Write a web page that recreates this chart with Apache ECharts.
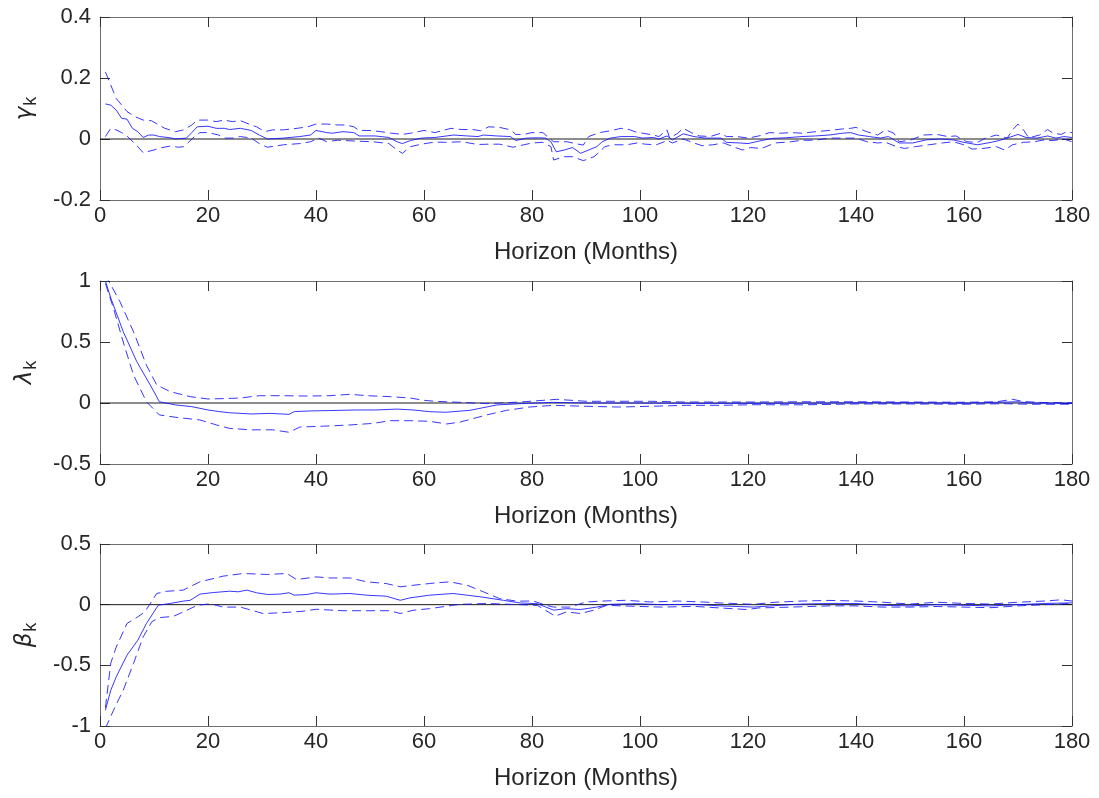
<!DOCTYPE html>
<html><head><meta charset="utf-8">
<script src="https://cdn.jsdelivr.net/npm/echarts@6/dist/echarts.min.js"></script>
<style>html,body{margin:0;padding:0;background:#fff}#c{width:1099px;height:798px}</style>
</head><body><div id="c"></div>
<script>
const xLabel = 'Horizon (Months)';
const xMin = 0, xMax = 180, xStep = 20;

// gamma_k panel
const gammaHi = [[1,0.22],[3,0.133],[5,0.09],[6.5,0.073],[8,0.062],[9.5,0.06],[12,0.035],[14,0.024],[15.5,0.03],[17,0.046],[18,0.062],[20,0.062],[21.5,0.057],[23,0.062],[24.5,0.057],[26,0.06],[28,0.046],[29,0.04],[30.5,0.024],[32,0.03],[34,0.03],[36.5,0.035],[38.5,0.04],[40,0.049],[42,0.049],[44,0.046],[45.5,0.046],[47,0.04],[48,0.028],[50,0.028],[52,0.024],[54,0.019],[56,0.015],[57.5,0.019],[60,0.028],[62,0.021],[65,0.035],[67,0.031],[69,0.031],[70.5,0.027],[72,0.04],[74,0.038],[76,0.03],[77,0.015],[78.5,0.015],[80,0.021],[82,0.021],[84,-0.009],[86.5,-0.009],[88,-0.015],[89.5,-0.02],[90.5,0.008],[92.5,0.021],[94.5,0.027],[96.5,0.035],[98,0.031],[99.5,0.021],[100.5,0.019],[102.5,0.013],[103.5,0.008],[105,0.03],[105.5,0.003],[107,0.019],[108,0.035],[109.5,0.021],[111,0.01],[113,0.008],[115,0.019],[116,0.008],[118,0.008],[120,0.003],[122,0.01],[124,0.021],[126,0.019],[128,0.021],[130,0.019],[132.5,0.024],[135,0.028],[137.5,0.033],[139,0.035],[140,0.038],[142,0.024],[144,0.013],[145.5,0.03],[147,0.019],[148,-0.009],[150,-0.004],[152.5,0.013],[155,0.015],[157,0.008],[158.5,0.01],[160.5,-0.009],[162.5,-0.011],[164,0.003],[166,0.013],[168,0.003],[169,0.03],[170,0.049],[171,0.03],[172,0.004],[174,0.013],[175.5,0.031],[176.5,0.019],[178,0.015],[179,0.024],[180,0.021]];
const gammaMid = [[1,0.115],[2,0.111],[3,0.095],[4,0.068],[5,0.065],[6,0.035],[7,0.024],[8,0.005],[9,0.013],[10,0.013],[11,0.008],[13,0.004],[14,0],[16,0.003],[17,0.021],[18,0.04],[20,0.042],[21.5,0.035],[23,0.035],[24,0.031],[26,0.035],[28,0.028],[29.5,0.013],[31,0],[34,0.003],[37,0.008],[39,0.013],[40,0.028],[42,0.021],[43,0.019],[45,0.024],[47,0.021],[48,0.01],[51,0.01],[53.5,0.005],[55,-0.009],[56,-0.015],[57.5,-0.005],[59.5,0.003],[62,0.005],[65.5,0.013],[68,0.01],[70,0.008],[71,0.013],[73.5,0.01],[76,0.008],[77,-0.005],[79,0.003],[81,0.004],[82.5,0.003],[83.5,-0.009],[84.5,-0.042],[86,-0.036],[87.5,-0.028],[89,-0.047],[90.5,-0.036],[92,-0.025],[93,-0.009],[94.5,0.003],[96.5,0.008],[99,0.008],[100.5,0.003],[102.5,0.005],[103.5,0],[105,0.01],[106,-0.003],[108,0.017],[110,0.008],[112,0.003],[115,0.003],[116,-0.011],[118.5,-0.013],[120,-0.015],[122,-0.007],[124.5,0.002],[127,0.004],[130,0.008],[132.5,0.01],[135,0.013],[137.5,0.019],[139,0.021],[140.5,0.013],[142.5,0.008],[144.5,0.003],[146,0.008],[148,-0.013],[150.5,-0.013],[153,-0.003],[155.5,0],[158,-0.003],[160,-0.011],[162.5,-0.019],[165,-0.011],[166.5,-0.005],[168,0.003],[170,0.015],[171.5,0.005],[173.5,0.003],[175.5,0.01],[177,0.003],[178.5,0.008],[180,0.005]];
const gammaLo = [[1,0.008],[2,0.035],[3,0.03],[4,0.021],[5,0.01],[7,-0.025],[8,-0.045],[10,-0.036],[11,-0.03],[13,-0.023],[14.5,-0.027],[15.5,-0.025],[16.5,-0.009],[17.5,0.008],[18.5,0.021],[20,0.021],[22,0.013],[23,0.003],[24.5,0.003],[26,0.008],[28,0.003],[29.5,-0.015],[31,-0.027],[34,-0.019],[37,-0.015],[39,-0.009],[40.5,0.003],[42,-0.009],[44,-0.004],[47.5,-0.007],[50.5,-0.009],[53.5,-0.015],[55,-0.036],[56,-0.047],[57.5,-0.025],[59.5,-0.017],[62,-0.01],[64,-0.011],[67,-0.009],[70,-0.018],[72,-0.017],[74,-0.017],[76.5,-0.027],[78.5,-0.019],[80,-0.013],[82,-0.011],[83.5,-0.025],[84,-0.069],[86,-0.058],[87.5,-0.058],[89.5,-0.071],[91.5,-0.058],[92.5,-0.042],[93.5,-0.025],[95,-0.019],[97.5,-0.019],[99.5,-0.013],[101,-0.017],[103,-0.019],[104.5,-0.009],[105,-0.004],[106,-0.013],[108,0],[110,-0.013],[111.5,-0.022],[113.5,-0.019],[115.5,-0.013],[117.5,-0.027],[119,-0.036],[120.5,-0.028],[122.5,-0.031],[125,-0.013],[128,-0.009],[130,-0.004],[132.5,-0.004],[135,0.003],[137.5,0.003],[140,0.003],[142,-0.009],[144,-0.013],[145.5,-0.011],[147.5,-0.025],[149,-0.031],[151,-0.025],[153.5,-0.019],[156,-0.013],[158,-0.009],[160,-0.019],[161.5,-0.033],[163.5,-0.031],[166,-0.025],[167.5,-0.036],[169,-0.019],[171,-0.011],[173,-0.009],[174.5,-0.004],[176.5,-0.005],[178.5,0],[180,-0.009]];

// lambda_k panel
const lambdaHi = [[1,1.05],[3.7,0.83],[6.2,0.585],[8.6,0.31],[10.5,0.148],[13,0.093],[16.7,0.052],[20,0.033],[23,0.036],[26,0.041],[29.5,0.06],[34,0.06],[38.3,0.057],[42.6,0.06],[46.3,0.071],[49.4,0.06],[53.7,0.052],[57.4,0.041],[60,0.022],[62,0.014],[65.4,0.008],[71.6,-0.005],[77.8,0.008],[84.6,0.03],[90,0.014],[96,0.014],[102,0.014],[108,0.008],[115,0.008],[121,0.008],[130,0.01],[140,0.01],[150,0.008],[160,0.006],[166,0.01],[169,0.03],[171,0.012],[175,0.003],[180,0.002]];
const lambdaMid = [[1,1.0],[2,0.86],[4.3,0.585],[6.8,0.34],[9.3,0.148],[11,0.01],[14,-0.016],[17,-0.03],[20,-0.057],[22,-0.07],[24,-0.08],[28,-0.09],[31.5,-0.085],[35,-0.093],[36,-0.07],[39,-0.065],[42.5,-0.062],[47.5,-0.057],[51,-0.057],[55,-0.05],[58,-0.057],[61,-0.071],[64,-0.076],[68.5,-0.06],[73.5,-0.016],[78,-0.005],[84,0.005],[90,0],[100,0],[110,-0.003],[120,-0.003],[130,-0.002],[140,0.002],[150,0.002],[160,-0.002],[168,0.008],[170,0.01],[172,0],[180,-0.003]];
const lambdaLo = [[1,0.98],[2.5,0.776],[4.3,0.5],[6.2,0.23],[8.6,0.01],[11,-0.098],[14,-0.117],[18.5,-0.139],[21.6,-0.18],[24,-0.208],[28,-0.22],[32,-0.22],[35,-0.24],[37,-0.197],[41.4,-0.19],[46.3,-0.18],[50.6,-0.167],[53.7,-0.145],[57.4,-0.145],[61,-0.15],[64.2,-0.172],[66.7,-0.156],[71.6,-0.098],[75.3,-0.06],[79.6,-0.033],[84,-0.019],[90,-0.027],[96,-0.033],[102,-0.027],[108.6,-0.019],[115,-0.019],[121,-0.014],[130,-0.015],[140,-0.008],[150,-0.008],[160,-0.01],[168,-0.006],[172,-0.01],[180,-0.01]];

// beta_k panel
const betaHi = [[1,-0.85],[2,-0.48],[3,-0.35],[5,-0.155],[7,-0.1],[8.3,-0.06],[10.5,0.092],[12.3,0.11],[15.4,0.12],[18.5,0.188],[22.8,0.235],[26.5,0.257],[31,0.249],[34.6,0.257],[36.4,0.207],[40,0.229],[42.6,0.22],[46.3,0.22],[49.4,0.188],[53,0.174],[55.6,0.147],[58,0.16],[61,0.174],[62.3,0.18],[64.8,0.188],[68,0.16],[71,0.106],[74,0.05],[77.2,0.029],[80.2,0.03],[82.7,-0.006],[84,-0.02],[87,-0.02],[90,0.022],[93,0.03],[97.5,0.036],[102,0.022],[107,0.03],[111.7,0.022],[115,0.014],[121,0.003],[125,0.02],[130,0.03],[135,0.035],[140,0.03],[145,0.02],[150,0.005],[155,0.02],[160,0.01],[165,0.005],[170,0.02],[175,0.03],[178,0.04],[180,0.03]];
const betaMid = [[1,-0.87],[2,-0.705],[3,-0.595],[5,-0.416],[7,-0.293],[8.6,-0.155],[10.8,-0.004],[13,0.01],[15.4,0.029],[16.7,0.036],[18.5,0.087],[21,0.1],[24,0.111],[25.6,0.106],[27.2,0.12],[29,0.098],[31,0.084],[33.3,0.087],[35,0.098],[36,0.078],[38.3,0.084],[40,0.098],[42.6,0.087],[46.3,0.092],[49.4,0.078],[53,0.07],[55.6,0.036],[57.4,0.056],[61,0.078],[65.4,0.092],[70.4,0.065],[74.7,0.036],[77.8,0.014],[81,0.008],[84,-0.045],[86.4,-0.033],[89,-0.04],[92,-0.02],[94.4,0.003],[99.4,0.008],[104,0],[110,0.003],[114.8,-0.01],[121,-0.02],[126,-0.005],[130,0.005],[135,0.01],[140,0.01],[145,-0.005],[150,-0.01],[155,0],[160,-0.005],[165,-0.01],[170,0],[175,0.01],[180,0.015]];
const betaLo = [[1,-1.02],[2.5,-0.87],[4.3,-0.705],[6.2,-0.485],[8,-0.265],[9.6,-0.14],[11,-0.107],[13.6,-0.096],[15.4,-0.06],[18,-0.006],[20.4,0.008],[22.8,-0.02],[26,-0.02],[30.2,-0.073],[33.3,-0.067],[37.6,-0.054],[40,-0.038],[45,-0.05],[50,-0.05],[53.7,-0.05],[55.6,-0.073],[58,-0.046],[61,-0.033],[66.7,0.003],[71.6,0.01],[77.8,0],[81,-0.006],[84.3,-0.095],[86.4,-0.06],[89,-0.073],[91.4,-0.046],[93.8,-0.006],[99.4,-0.014],[104,-0.02],[110,-0.014],[114.8,-0.027],[119.8,-0.04],[122,-0.027],[128,-0.02],[135,-0.01],[140,-0.01],[145,-0.02],[150,-0.02],[155,-0.015],[160,-0.02],[165,-0.025],[170,-0.01],[175,0],[180,0.01]];

const panelLetters = ['γ', 'λ', 'β'];
const yMins = [-0.2, -0.5, -1];
const yMaxs = [0.4, 1, 0.5];
const yIntervals = [0.2, 0.5, 0.5];
const bands = [[gammaLo, gammaMid, gammaHi], [lambdaLo, lambdaMid, lambdaHi], [betaLo, betaMid, betaHi]];

const grids = [{top:17,height:183},{top:281,height:183},{top:544,height:182}];

const txt = '#262626';
const axisCol = '#6e6e6e';
const font = 'Liberation Sans';
const blue = 'rgba(20,20,255,0.85)';

const grid = [], xAxis = [], yAxis = [], series = [];
grids.forEach((g, i) => {
  grid.push({left:100, right:27, top:g.top, height:g.height});
  const tick = {show:true, inside:true, length:10, lineStyle:{color:'#333', width:1}};
  const line = {show:true, onZero:false, lineStyle:{color:axisCol, width:1}};
  xAxis.push({gridIndex:i, type:'value', min:xMin, max:xMax, interval:xStep, position:'bottom',
    axisLine:line, axisTick:tick, splitLine:{show:false},
    axisLabel:{fontSize:22, color:txt, fontFamily:font, margin:5},
    name:xLabel, nameLocation:'middle', nameGap:40,
    nameTextStyle:{fontSize:24, color:txt, fontFamily:font}});
  xAxis.push({gridIndex:i, type:'value', min:xMin, max:xMax, interval:xStep, position:'top',
    axisLine:line, axisTick:tick, splitLine:{show:false}, axisLabel:{show:false}});
  yAxis.push({gridIndex:i, type:'value', min:yMins[i], max:yMaxs[i], interval:yIntervals[i], position:'left',
    axisLine:line, axisTick:tick, splitLine:{show:false},
    axisLabel:{fontSize:22, color:txt, fontFamily:font, margin:9, formatter:v => String(Number(v.toFixed(2)))},
    name:'{g|' + panelLetters[i] + '}{k|k}', nameLocation:'middle', nameRotate:90, nameGap:60,
    nameTextStyle:{rich:{
      g:{fontSize:23, color:txt, fontFamily:'DejaVu Sans', fontStyle:'italic'},
      k:{fontSize:18, color:txt, fontFamily:font, padding:[12,0,0,1]}
    }}});
  yAxis.push({gridIndex:i, type:'value', min:yMins[i], max:yMaxs[i], interval:yIntervals[i], position:'right',
    axisLine:line, axisTick:tick, splitLine:{show:false}, axisLabel:{show:false}});
  const xi = 2*i, yi = 2*i;
  series.push({type:'line', xAxisIndex:xi, yAxisIndex:yi, data:[[xMin,0],[xMax,0]], showSymbol:false, silent:true,
    lineStyle:{color:'#1a1a1a', width:1}, z:1});
  const [lo, mid, hi] = bands[i];
  [lo, hi].forEach(d => series.push({type:'line', xAxisIndex:xi, yAxisIndex:yi, data:d, showSymbol:false, silent:true,
    lineStyle:{color:blue, width:1, type:[9,5]}, z:2}));
  series.push({type:'line', xAxisIndex:xi, yAxisIndex:yi, data:mid, showSymbol:false, silent:true,
    lineStyle:{color:blue, width:1}, z:3});
});

const chart = echarts.init(document.getElementById('c'), null, {renderer:'canvas'});
chart.setOption({animation:false, backgroundColor:'#fff', grid, xAxis, yAxis, series});
</script>
</body></html>
